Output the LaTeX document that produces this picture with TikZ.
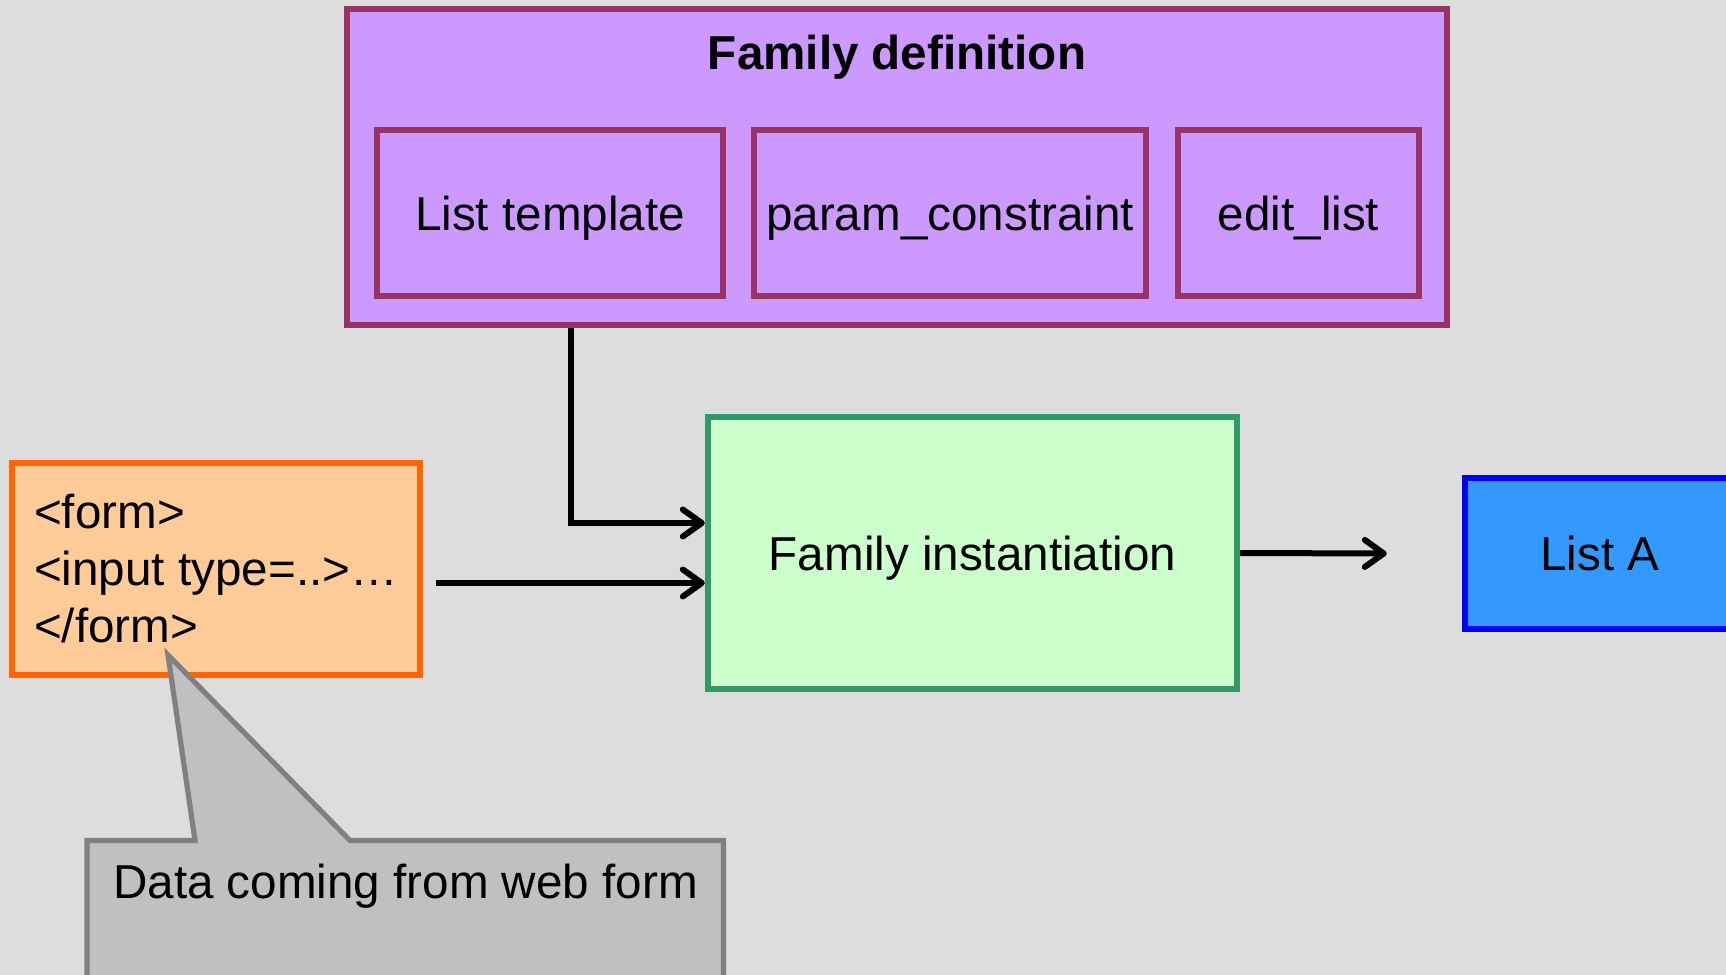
\documentclass[tikz,border=0pt]{standalone}
\usepackage{fontspec}
\setmainfont{Liberation Sans}
\usetikzlibrary{arrows.meta,calc}
\definecolor{bgc}{HTML}{DDDDDD}
\definecolor{pfill}{HTML}{CC99FF}
\definecolor{pdraw}{HTML}{993366}
\definecolor{ofill}{HTML}{FFCC99}
\definecolor{odraw}{HTML}{FF6600}
\definecolor{gfill}{HTML}{CCFFCC}
\definecolor{gdraw}{HTML}{339966}
\definecolor{bfill}{HTML}{3399FF}
\definecolor{bdraw}{HTML}{0000FF}
\definecolor{cfill}{HTML}{C0C0C0}
\definecolor{cdraw}{HTML}{808080}
\tikzset{
  boxbase/.style={rectangle, line width=3.2pt, inner sep=0pt, text height=17pt, text depth=0pt},
  purplebox/.style={boxbase, draw=pdraw, fill=pfill},
  orangebox/.style={rectangle, line width=3.2pt, draw=odraw, fill=ofill, align=left, inner sep=0pt},
  greenbox/.style={boxbase, draw=gdraw, fill=gfill},
  bluebox/.style={boxbase, draw=bdraw, fill=bfill},
  arr/.style={draw=black, line width=3pt, -{Straight Barb[length=9.5pt,width=13.5pt,round]}},
  calloutshape/.style={draw=cdraw, fill=cfill, line width=2.6pt, line join=miter},
}
\begin{document}
\begin{tikzpicture}[x=0.5pt,y=-0.5pt, font=\fontsize{23.8pt}{28.5pt}\selectfont]
\useasboundingbox (0,0) rectangle (1726,975);
\clip (0,0) rectangle (1726,975);
\fill[bgc] (0,0) rectangle (1726,975);

% Family definition container
\node[purplebox, minimum width=550pt, minimum height=157.75pt] (famdef) at (897,167) {};
\node[anchor=base, inner sep=0pt, font=\fontsize{23.8pt}{28.5pt}\selectfont\bfseries] (title) at (897,69) {Family definition};
\node[purplebox, minimum width=173.25pt, minimum height=83pt] (lt) at (550,213) {List template};
\node[purplebox, minimum width=196pt, minimum height=83pt] (pc) at (950,213) {param\_constraint};
\node[purplebox, minimum width=120.5pt, minimum height=83pt] (el) at (1298.5,213) {edit\_list};

% web form
\node[orangebox, minimum width=204pt, minimum height=106pt] (form) at (216,569)
  {<form>\\<input type=..>…\\</form>};

% instantiation
\node[greenbox, minimum width=264.5pt, minimum height=136pt] (inst) at (972.5,553) {Family instantiation};

% List A
\node[bluebox, minimum width=135pt, minimum height=75.5pt] (lista) at (1600,553.5) {List A};

% connectors
\coordinate (vstart) at ($(lt.south |- famdef.south)+(10.5pt,0)$);
\draw[arr, line join=miter] (vstart) |- ([yshift=15pt]inst.west);
\draw[arr] ($(form.east)+(6.5pt,-7pt)$) -- ([yshift=-15pt]inst.west);
\draw[arr] (inst.east) -- ($(lista.west)+(-37.5pt,0)$);

% callout
\draw[calloutshape] (87,840.5) -- (195,840.5) -- (168,655) -- (350,840.5) -- (723.5,840.5)
  -- (723.5,1010) -- (87,1010) -- cycle;
\node[anchor=base, inner sep=0pt] (note) at (405.5,898) {Data coming from web form};
\end{tikzpicture}
\end{document}
